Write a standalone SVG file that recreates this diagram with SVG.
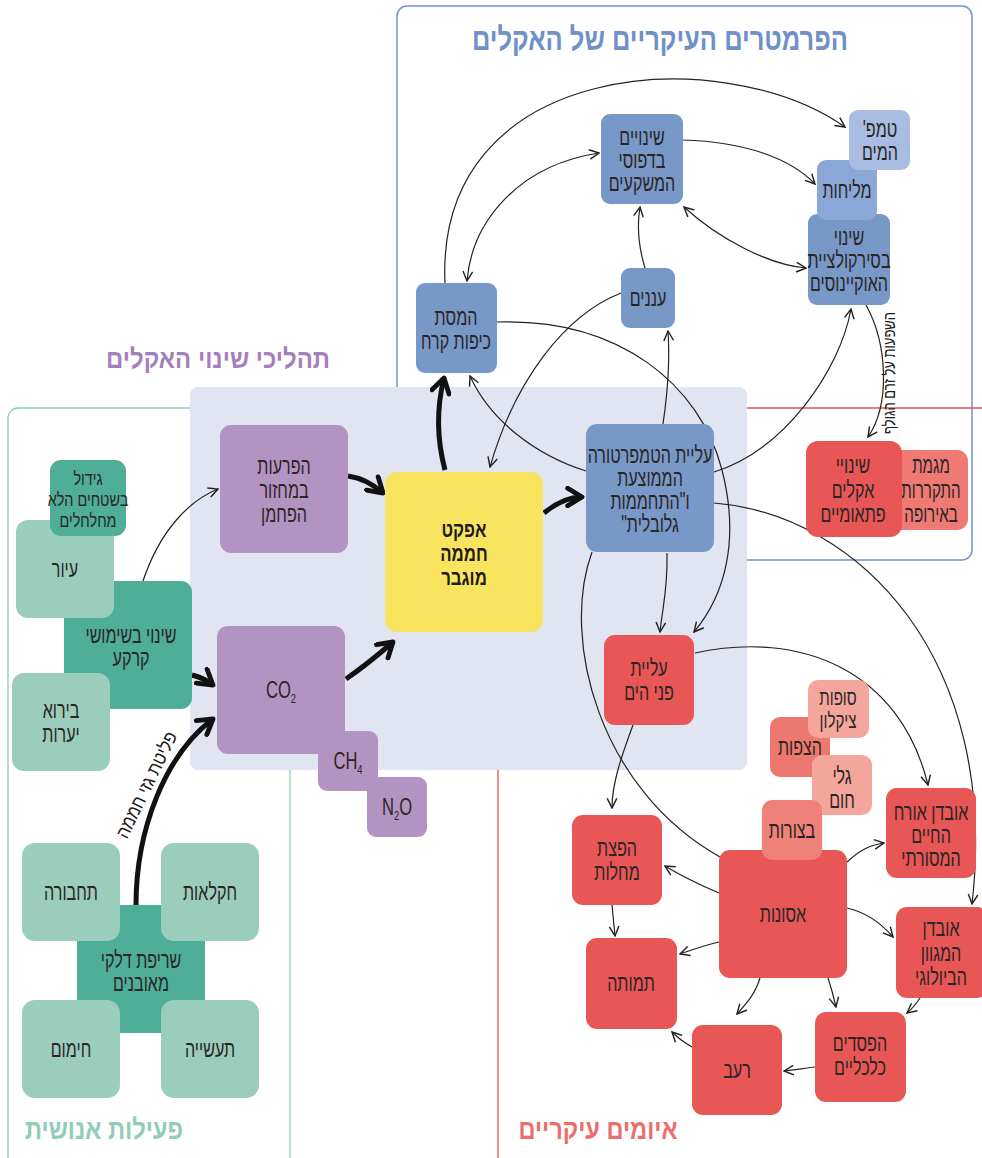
<svg xmlns="http://www.w3.org/2000/svg" width="982" height="1158" viewBox="0 0 982 1158">
<defs>
<style>
.t{font-family:"Liberation Sans","DejaVu Sans",sans-serif;font-size:23px;fill:#2b2626;text-anchor:middle;direction:rtl}
.tb{font-family:"Liberation Sans","DejaVu Sans",sans-serif;font-size:21px;font-weight:bold;fill:#1e1b1b;text-anchor:middle;direction:rtl}
.lat{font-family:"Liberation Sans","DejaVu Sans",sans-serif;font-size:23px;fill:#2b2626;text-anchor:middle}
.ttl{font-family:"Liberation Sans","DejaVu Sans",sans-serif;font-weight:bold;text-anchor:middle;direction:rtl}
.lbl{font-family:"Liberation Sans","DejaVu Sans",sans-serif;fill:#1e1b1b;text-anchor:middle;direction:rtl}
.c{fill:none;stroke:#222;stroke-width:1.2;marker-end:url(#a)}
.cd{fill:none;stroke:#222;stroke-width:1.2;marker-end:url(#a);marker-start:url(#a)}
.cn{fill:none;stroke:#222;stroke-width:1.2}
.k{fill:none;stroke:#111;stroke-width:5;marker-end:url(#ak)}
.bl{fill:#7898c8}.pu{fill:#b393c1}.gd{fill:#4eae98}.gl{fill:#9acdbb}.rd{fill:#e85656}
</style>
<marker id="a" viewBox="0 0 10 10" refX="9" refY="5" markerWidth="12" markerHeight="12" markerUnits="userSpaceOnUse" orient="auto-start-reverse"><path d="M1,1 L9,5 L1,9" fill="none" stroke="#222" stroke-width="1.2"/></marker>
<marker id="ak" viewBox="0 0 10 10" refX="8" refY="5" markerWidth="22" markerHeight="22" markerUnits="userSpaceOnUse" orient="auto"><path d="M1.5,1 L8,5 L1.5,9" fill="none" stroke="#111" stroke-width="2.2" stroke-linecap="round" stroke-linejoin="round"/></marker>
</defs>
<rect width="982" height="1158" fill="#ffffff"/>

<g id="frames">
<rect x="397" y="6" width="575" height="554" rx="10" fill="none" stroke="#7192cc" stroke-width="1.5"/>
<rect x="498" y="408" width="520" height="780" rx="10" fill="none" stroke="#e9524f" stroke-width="1.3"/>
<rect x="8" y="408" width="282" height="780" rx="10" fill="none" stroke="#8ccfba" stroke-width="1.3"/>
<rect x="190" y="387" width="557" height="383" rx="8" fill="#e1e4f1"/>
</g>

<g id="titles">
<text class="ttl" x="660" y="50" font-size="32" fill="#7090c8" textLength="376" lengthAdjust="spacingAndGlyphs">הפרמטרים העיקריים של האקלים</text>
<text class="ttl" x="218" y="368" font-size="27" fill="#a57fbb" textLength="224" lengthAdjust="spacingAndGlyphs">תהליכי שינוי האקלים</text>
<text class="ttl" x="104" y="1139" font-size="28" fill="#8fcdb9" textLength="158" lengthAdjust="spacingAndGlyphs">פעילות אנושית</text>
<text class="ttl" x="598" y="1139" font-size="28" fill="#ea6e6b" textLength="159" lengthAdjust="spacingAndGlyphs">איומים עיקריים</text>
</g>

<g id="connectors">
<path class="c" d="M445,283 C435,60 720,40 845,127"/>
<path class="cd" d="M599,153 C520,165 472,220 467,281"/>
<path class="c" d="M683,140 C745,142 790,158 815,184"/>
<path class="cd" d="M684,207 C720,240 770,265 806,268"/>
<path class="c" d="M645,268 C638,245 637,225 640,207"/>
<path class="c" d="M663,424 C668,390 670,360 668,331"/>
<path class="c" d="M621,293 C565,315 515,380 490,467"/>
<path class="c" d="M586,471 C535,455 490,420 470,376"/>
<path class="c" d="M497,322 C620,318 700,385 722,470 C740,540 725,595 694,632"/>
<path class="c" d="M714,472 C785,450 840,370 851,309"/>
<path class="c" d="M714,503 C860,515 1000,660 972,904"/>
<path class="cn" d="M592,552 C560,640 600,790 720,857"/>
<path class="c" d="M667,553 C668,590 662,610 660,632"/>
<path class="c" d="M695,653 C800,630 900,670 928,785"/>
<path class="c" d="M633,725 C620,760 612,785 612,808"/>
<path class="c" d="M612,905 C613,915 614,925 615,936"/>
<path class="c" d="M719,893 C700,885 680,875 665,866"/>
<path class="c" d="M719,942 C705,945 692,950 680,954"/>
<path class="c" d="M847,862 C860,850 870,845 884,843"/>
<path class="c" d="M847,908 C865,912 880,922 893,937"/>
<path class="c" d="M760,978 C755,995 745,1005 737,1014"/>
<path class="c" d="M828,978 C832,990 834,998 836,1007"/>
<path class="c" d="M920,998 C916,1004 912,1009 907,1013"/>
<path class="c" d="M815,1067 C805,1068 795,1070 784,1071"/>
<path class="c" d="M692,1047 C685,1043 678,1038 672,1032"/>
<path class="c" d="M866,305 C888,345 890,405 868,437"/>
<path class="c" d="M143,581 C160,530 190,500 218,489"/>
<path class="k" d="M192,675 Q204,678 213,685"/>
<path class="k" d="M136,905 C136,830 165,755 213,719"/>
<path class="k" d="M348,476 C362,478 374,485 383,493"/>
<path class="k" d="M346,679 C362,668 378,655 393,642"/>
<path class="k" d="M544,513 C556,503 568,497 582,497"/>
<path class="k" d="M445,470 C437,440 436,410 444,378"/>
<text class="lbl" transform="translate(147 785) rotate(-64)" y="6" font-size="19" textLength="116" lengthAdjust="spacingAndGlyphs">פליטת גזי חממה</text>
<text class="lbl" transform="translate(889 373) rotate(-90)" y="6" font-size="17" textLength="122" lengthAdjust="spacingAndGlyphs">השפעות על זרם הגולף</text>
</g>

<g id="n-sirk"><rect class="bl" x="808" y="214" width="82" height="91" rx="9"/><text class="t" transform="translate(849 0) scale(.7 1)"><tspan x="0" y="245">שינוי</tspan><tspan x="0" y="268">בסירקולציית</tspan><tspan x="0" y="291">האוקיינוסים</tspan></text></g>
<g id="n-melihut"><rect x="817" y="160" width="60" height="60" rx="9" fill="#8ba7d7"/><text class="t" transform="translate(847 0) scale(.7 1)"><tspan x="0" y="198">מליחות</tspan></text></g>
<g id="n-temp"><rect x="849" y="110" width="61" height="60" rx="9" fill="#a9bce1"/><text class="t" transform="translate(880 0) scale(.7 1)"><tspan x="0" y="137">טמפ'</tspan><tspan x="0" y="160">המים</tspan></text></g>
<g id="n-mishkaim"><rect class="bl" x="601" y="114" width="82" height="90" rx="9"/><text class="t" transform="translate(642 0) scale(.7 1)"><tspan x="0" y="145">שינויים</tspan><tspan x="0" y="168">בדפוסי</tspan><tspan x="0" y="191">המשקעים</tspan></text></g>
<g id="n-ananim"><rect class="bl" x="621" y="268" width="54" height="60" rx="9"/><text class="t" transform="translate(648 0) scale(.7 1)"><tspan x="0" y="306">עננים</tspan></text></g>
<g id="n-hamasat"><rect class="bl" x="416" y="283" width="81" height="90" rx="9"/><text class="t" transform="translate(456 0) scale(.7 1)"><tspan x="0" y="325">המסת</tspan><tspan x="0" y="349">כיפות קרח</tspan></text></g>
<g id="n-temprise"><rect class="bl" x="586" y="424" width="128" height="128" rx="11"/><text class="t" transform="translate(650 0) scale(.7 1)"><tspan x="0" y="463">עליית הטמפרטורה</tspan><tspan x="0" y="486">הממוצעת</tspan><tspan x="0" y="509">ו"התחממות</tspan><tspan x="0" y="532">גלובלית"</tspan></text></g>

<g id="n-carbon"><rect class="pu" x="220" y="425" width="128" height="128" rx="11"/><text class="t" transform="translate(284 0) scale(.7 1)"><tspan x="0" y="474">הפרעות</tspan><tspan x="0" y="498">במחזור</tspan><tspan x="0" y="522">הפחמן</tspan></text></g>
<g id="n-co2"><rect class="pu" x="217" y="626" width="128" height="128" rx="11"/><text class="lat" transform="translate(281 0) scale(.72 1)" x="0" y="698">CO<tspan style="font-size:13px" dy="5">2</tspan></text></g>
<g id="n-ch4"><rect class="pu" x="318" y="731" width="60" height="60" rx="9"/><text class="lat" transform="translate(348 0) scale(.72 1)" x="0" y="769">CH<tspan style="font-size:13px" dy="5">4</tspan></text></g>
<g id="n-n2o"><rect class="pu" x="367" y="777" width="60" height="60" rx="9"/><text class="lat" transform="translate(397 0) scale(.72 1)" x="0" y="815">N<tspan style="font-size:13px" dy="5">2</tspan><tspan dy="-5">O</tspan></text></g>
<g id="n-greenhouse"><rect x="385" y="472" width="158" height="160" rx="12" fill="#f9e460"/><text class="tb" transform="translate(464 0) scale(.8 1)"><tspan x="0" y="537">אפקט</tspan><tspan x="0" y="561">חממה</tspan><tspan x="0" y="585">מוגבר</tspan></text></g>

<g id="n-landuse"><rect class="gd" x="64" y="581" width="128" height="128" rx="11"/><text class="t" transform="translate(131 0) scale(.7 1)"><tspan x="0" y="643">שינוי בשימושי</tspan><tspan x="0" y="666">קרקע</tspan></text></g>
<g id="n-ior"><rect class="gl" x="16" y="520" width="98" height="98" rx="12"/><text class="t" transform="translate(65 0) scale(.7 1)"><tspan x="0" y="577">עיור</tspan></text></g>
<g id="n-gidul"><rect class="gd" x="50" y="460" width="76" height="76" rx="11"/><text class="t" transform="translate(88 0) scale(.8 1)" style="font-size:18px"><tspan x="0" y="485">גידול</tspan><tspan x="0" y="506">בשטחים הלא</tspan><tspan x="0" y="527">מחלחלים</tspan></text></g>
<g id="n-birua"><rect class="gl" x="12" y="673" width="98" height="98" rx="12"/><text class="t" transform="translate(61 0) scale(.7 1)"><tspan x="0" y="718">בירוא</tspan><tspan x="0" y="742">יערות</tspan></text></g>
<g id="n-fossil"><rect class="gd" x="77" y="905" width="128" height="128" rx="4"/><text class="t" transform="translate(141 0) scale(.7 1)"><tspan x="0" y="968">שריפת דלקי</tspan><tspan x="0" y="991">מאובנים</tspan></text></g>
<g id="n-transport"><rect class="gl" x="22" y="843" width="98" height="98" rx="13"/><text class="t" transform="translate(71 0) scale(.7 1)"><tspan x="0" y="900">תחבורה</tspan></text></g>
<g id="n-agri"><rect class="gl" x="161" y="843" width="98" height="98" rx="13"/><text class="t" transform="translate(210 0) scale(.7 1)"><tspan x="0" y="900">חקלאות</tspan></text></g>
<g id="n-heating"><rect class="gl" x="22" y="1000" width="98" height="98" rx="13"/><text class="t" transform="translate(71 0) scale(.7 1)"><tspan x="0" y="1057">חימום</tspan></text></g>
<g id="n-industry"><rect class="gl" x="161" y="1000" width="98" height="98" rx="13"/><text class="t" transform="translate(210 0) scale(.7 1)"><tspan x="0" y="1057">תעשייה</tspan></text></g>

<g id="n-europe"><rect x="888" y="450" width="80" height="80" rx="11" fill="#ef7a73"/><text class="t" transform="translate(931 0) scale(.66 1)"><tspan x="0" y="473">מגמת</tspan><tspan x="0" y="498">התקררות</tspan><tspan x="0" y="522">באירופה</tspan></text></g>
<g id="n-sudden"><rect class="rd" x="806" y="441" width="96" height="96" rx="12"/><text class="t" transform="translate(853 0) scale(.7 1)"><tspan x="0" y="473">שינויי</tspan><tspan x="0" y="498">אקלים</tspan><tspan x="0" y="522">פתאומיים</tspan></text></g>
<g id="n-sealevel"><rect class="rd" x="604" y="635" width="90" height="90" rx="11"/><text class="t" transform="translate(649 0) scale(.7 1)"><tspan x="0" y="676">עליית</tspan><tspan x="0" y="700">פני הים</tspan></text></g>
<g id="n-disasters"><rect class="rd" x="719" y="850" width="128" height="128" rx="11"/><text class="t" transform="translate(783 0) scale(.7 1)"><tspan x="0" y="922">אסונות</tspan></text></g>
<g id="n-floods"><rect x="770" y="717" width="60" height="60" rx="10" fill="#ed7870"/><text class="t" transform="translate(800 0) scale(.7 1)"><tspan x="0" y="755">הצפות</tspan></text></g>
<g id="n-cyclone"><rect x="808" y="680" width="61" height="58" rx="10" fill="#f4a69d"/><text class="t" transform="translate(838 0) scale(.72 1)" style="font-size:21px"><tspan x="0" y="705">סופות</tspan><tspan x="0" y="728">ציקלון</tspan></text></g>
<g id="n-heat"><rect x="812" y="755" width="60" height="60" rx="10" fill="#f4a69d"/><text class="t" transform="translate(842 0) scale(.7 1)"><tspan x="0" y="784">גלי</tspan><tspan x="0" y="808">חום</tspan></text></g>
<g id="n-drought"><rect x="762" y="800" width="60" height="60" rx="10" fill="#ef8178"/><text class="t" transform="translate(792 0) scale(.7 1)"><tspan x="0" y="838">בצורות</tspan></text></g>
<g id="n-disease"><rect class="rd" x="572" y="815" width="90" height="90" rx="11"/><text class="t" transform="translate(617 0) scale(.7 1)"><tspan x="0" y="856">הפצת</tspan><tspan x="0" y="880">מחלות</tspan></text></g>
<g id="n-lifestyle"><rect class="rd" x="886" y="788" width="90" height="90" rx="11"/><text class="t" transform="translate(931 0) scale(.7 1)"><tspan x="0" y="820">אובדן אורח</tspan><tspan x="0" y="843">החיים</tspan><tspan x="0" y="866">המסורתי</tspan></text></g>
<g id="n-biodiv"><rect class="rd" x="896" y="907" width="92" height="91" rx="11"/><text class="t" transform="translate(941 0) scale(.7 1)"><tspan x="0" y="936">אובדן</tspan><tspan x="0" y="961">המגוון</tspan><tspan x="0" y="985">הביולוגי</tspan></text></g>
<g id="n-death"><rect class="rd" x="586" y="938" width="91" height="91" rx="11"/><text class="t" transform="translate(631 0) scale(.7 1)"><tspan x="0" y="991">תמותה</tspan></text></g>
<g id="n-hunger"><rect class="rd" x="692" y="1025" width="90" height="90" rx="11"/><text class="t" transform="translate(737 0) scale(.7 1)"><tspan x="0" y="1078">רעב</tspan></text></g>
<g id="n-economic"><rect class="rd" x="815" y="1012" width="91" height="90" rx="11"/><text class="t" transform="translate(860 0) scale(.7 1)"><tspan x="0" y="1051">הפסדים</tspan><tspan x="0" y="1075">כלכליים</tspan></text></g>
</svg>
